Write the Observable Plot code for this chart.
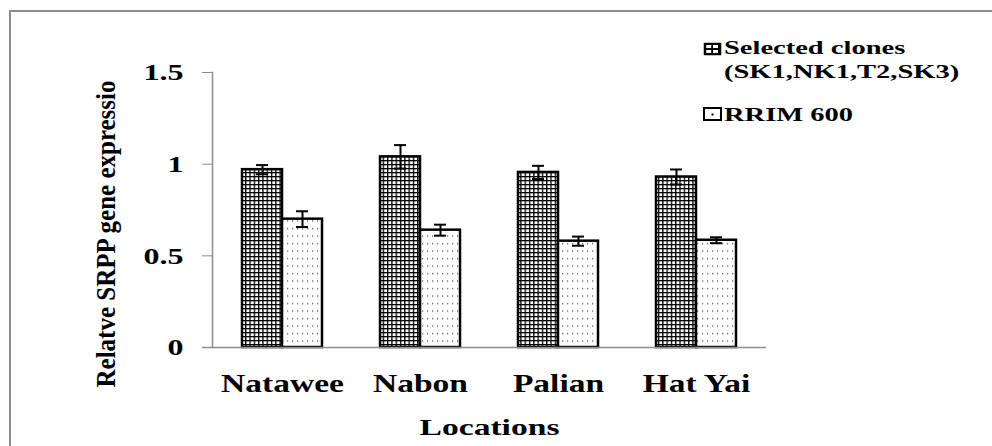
<!DOCTYPE html>
<html><head><meta charset="utf-8">
<script src="https://cdn.jsdelivr.net/npm/d3@7"></script>
<script src="https://cdn.jsdelivr.net/npm/@observablehq/plot@0.6"></script>
<style>
body{margin:0;background:#fff;}
#wrap{position:relative;width:992px;height:446px;overflow:hidden;font-family:"Liberation Serif","Times New Roman",serif;}
#border{position:absolute;left:9px;top:10px;width:1000px;height:460px;border-top:2px solid #8c8c8c;border-left:2px solid #8c8c8c;pointer-events:none;}
#chart{position:absolute;left:0;top:0;}
.leg{position:absolute;font-family:"Liberation Serif","Times New Roman",serif;font-weight:bold;font-size:19px;line-height:19px;white-space:nowrap;color:#000;}
.leg span{display:inline-block;transform:scaleX(1.5);transform-origin:0 50%;}
.sw{position:absolute;}
</style></head><body>
<div id="wrap"><div id="chart"></div><div id="border"></div><div id="legend"></div></div>
<script>
// ---- data ----
const locations = ["Natawee", "Nabon", "Palian", "Hat Yai"];
const selectedMean = [0.97, 1.04, 0.955, 0.93];
const selectedErr = [0.025, 0.064, 0.036, 0.041];
const rrimMean = [0.70, 0.64, 0.58, 0.585];
const rrimErr = [0.043, 0.030, 0.025, 0.016];
const seriesLabels = [["Selected clones", "(SK1,NK1,T2,SK3)"], ["RRIM 600"]];
const yTicks = [0, 0.5, 1, 1.5];
const yTitle = "Relatve SRPP gene expressio";
const xTitle = "Locations";

const selData = locations.map((l, i) => ({location: l, value: selectedMean[i], lo: selectedMean[i] - selectedErr[i], hi: selectedMean[i] + selectedErr[i]}));
const rrData = locations.map((l, i) => ({location: l, value: rrimMean[i], lo: rrimMean[i] - rrimErr[i], hi: rrimMean[i] + rrimErr[i]}));

const FONT = "'Liberation Serif', 'Times New Roman', serif";
const AX = "#8c8c8c";

const plot = Plot.plot({
  width: 992, height: 446,
  marginLeft: 212, marginRight: 226, marginTop: 72, marginBottom: 99,
  style: {fontFamily: FONT, background: "transparent", overflow: "visible", color: "#000"},
  x: {domain: locations, paddingInner: 0.42, paddingOuter: 0.21, align: 0.5, label: null, axis: null},
  y: {domain: [0, 1.5], label: null, axis: null},
  marks: [
    Plot.frame({anchor: "left", stroke: AX, strokeWidth: 1.5}),
    Plot.barY(selData, {x: "location", y: "value", fill: "url(#gridPat)", stroke: "#000", strokeWidth: 2.5, insetRight: 40}),
    Plot.barY(rrData, {x: "location", y: "value", fill: "url(#dotPat)", stroke: "#000", strokeWidth: 2.5, insetLeft: 40}),
    Plot.ruleY([0], {stroke: AX, strokeWidth: 1.5, insetLeft: -10}),
    Plot.ruleX(selData, {x: "location", y1: "lo", y2: "hi", dx: -20, stroke: "#000", strokeWidth: 2}),
    Plot.tickY(selData, {x: "location", y: "hi", insetLeft: 14, insetRight: 54, stroke: "#000", strokeWidth: 2}),
    Plot.tickY(selData, {x: "location", y: "lo", insetLeft: 14, insetRight: 54, stroke: "#000", strokeWidth: 2}),
    Plot.ruleX(rrData, {x: "location", y1: "lo", y2: "hi", dx: 20, stroke: "#000", strokeWidth: 2}),
    Plot.tickY(rrData, {x: "location", y: "hi", insetLeft: 54, insetRight: 14, stroke: "#000", strokeWidth: 2}),
    Plot.tickY(rrData, {x: "location", y: "lo", insetLeft: 54, insetRight: 14, stroke: "#000", strokeWidth: 2}),
    Plot.axisY({ticks: yTicks, tickFormat: d => String(d), tickSize: 10, tickPadding: 19, stroke: AX, fill: "#000", fontSize: 24, fontWeight: "bold", label: null}),
    Plot.axisX({tickSize: 0, tickPadding: 27, fill: "#000", fontSize: 25, fontWeight: "bold", label: null}),
    Plot.text([xTitle], {text: d => d, frameAnchor: "bottom", textAnchor: "middle", lineAnchor: "middle", dy: 80, fontSize: 24, fontWeight: "bold", fill: "#000"}),
    Plot.text([yTitle], {text: d => d, frameAnchor: "left", textAnchor: "middle", lineAnchor: "middle", rotate: -90, dx: -106, dy: 24, fontSize: 28, fontWeight: "bold", fill: "#000"})
  ]
});

// patterns
const defs = d3.select(plot).insert("defs", ":first-child");
const gp = defs.append("pattern").attr("id", "gridPat").attr("patternUnits", "userSpaceOnUse").attr("width", 4.3).attr("height", 4);
gp.append("rect").attr("width", 4.3).attr("height", 4).attr("fill", "#fff");
gp.append("rect").attr("width", 1.3).attr("height", 4).attr("fill", "#000");
gp.append("rect").attr("width", 4.3).attr("height", 1.3).attr("fill", "#000");
const dp = defs.append("pattern").attr("id", "dotPat").attr("patternUnits", "userSpaceOnUse").attr("width", 5).attr("height", 7.5);
dp.append("rect").attr("width", 5).attr("height", 7.5).attr("fill", "#fff");
dp.append("rect").attr("x", 2).attr("y", 3).attr("width", 1.2).attr("height", 1.2).attr("fill", "#444");

document.getElementById("chart").append(plot);

function stretchEl(t, f) {
  const L = t.getComputedTextLength();
  if (L > 0) {
    t.setAttribute("textLength", L * f);
    t.setAttribute("lengthAdjust", "spacingAndGlyphs");
  }
}
plot.querySelectorAll('g[aria-label="y-axis tick label"] text').forEach(t => stretchEl(t, 1.33));
plot.querySelectorAll('g[aria-label="x-axis tick label"] text').forEach(t => stretchEl(t, 1.34));
const textGroups = plot.querySelectorAll('g[aria-label="text"]');
if (textGroups[0]) textGroups[0].querySelectorAll("text").forEach(t => stretchEl(t, 1.4));
if (textGroups[1]) textGroups[1].querySelectorAll("text").forEach(t => {
  const L = t.getComputedTextLength();
  if (L > 0) stretchEl(t, 307 / L);
});

// legend
const legend = document.getElementById("legend");
const swatchTops = [41.5, 107];
const lineTops = [[38.4, 62.4], [105.1]];
seriesLabels.forEach((lines, i) => {
  const sw = document.createElementNS("http://www.w3.org/2000/svg", "svg");
  sw.setAttribute("class", "sw");
  sw.setAttribute("width", 19); sw.setAttribute("height", 14);
  sw.style.left = "702.5px"; sw.style.top = swatchTops[i] + "px";
  const s = d3.select(sw);
  if (i === 0) {
    s.append("rect").attr("x", 0.75).attr("y", 0.75).attr("width", 17.5).attr("height", 12.5).attr("fill", "#000");
    for (const cx of [3.2, 10]) for (const cy of [3, 8]) s.append("rect").attr("x", cx).attr("y", cy).attr("width", 5).attr("height", 3).attr("fill", "#fff");
  } else {
    s.append("rect").attr("x", 1).attr("y", 1).attr("width", 17).attr("height", 12).attr("fill", "#fff").attr("stroke", "#000").attr("stroke-width", 2);
    s.append("rect").attr("x", 8.5).attr("y", 6.5).attr("width", 2).attr("height", 2).attr("fill", "#000");
  }
  legend.append(sw);
  lines.forEach((txt, j) => {
    const d = document.createElement("div");
    d.className = "leg";
    d.style.left = "724px"; d.style.top = lineTops[i][j] + "px";
    const sp = document.createElement("span");
    sp.textContent = txt;
    d.append(sp);
    legend.append(d);
  });
});
</script>
</body></html>
